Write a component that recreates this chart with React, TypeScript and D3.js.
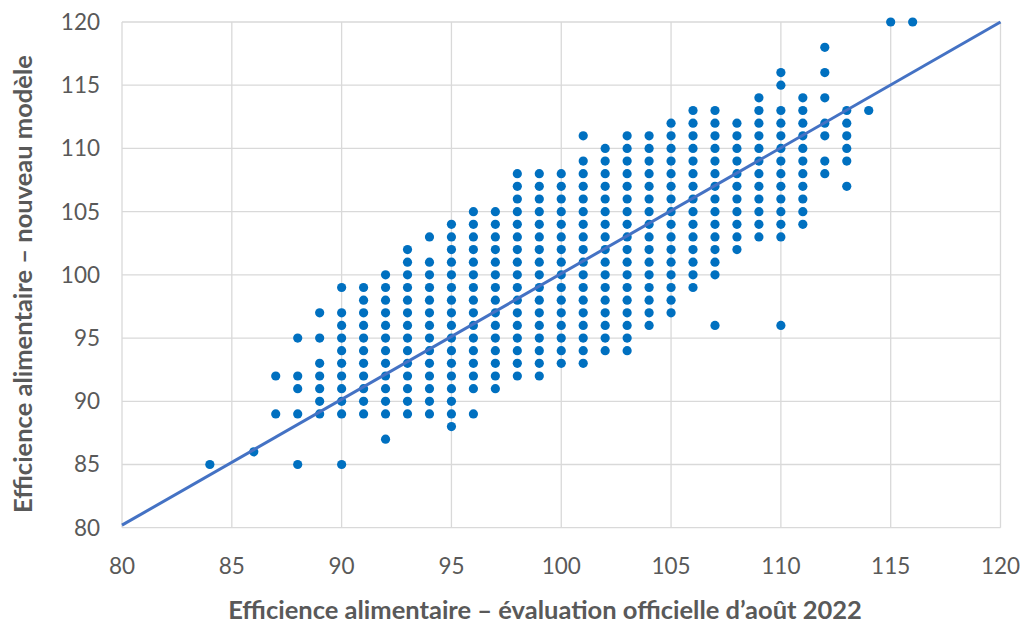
import React from "react";
import * as d3 from "d3";

// Official August 2022 evaluation (x) -> list of new-model values (y) observed at that x
const xColumns: number[] = [84, 86, 87, 88, 89, 90, 91, 92, 93, 94, 95, 96, 97, 98, 99, 100, 101, 102, 103, 104, 105, 106, 107, 108, 109, 110, 111, 112, 113, 114, 115, 116];

const yColumns: number[][] = [
  [85],
  [86],
  [92, 89],
  [95, 92, 91, 89, 85],
  [97, 95, 93, 92, 91, 90, 89],
  [99, 97, 96, 95, 94, 93, 92, 91, 90, 89, 85],
  [99, 98, 97, 96, 95, 94, 93, 92, 91, 90, 89],
  [100, 99, 98, 97, 96, 95, 94, 93, 92, 91, 90, 89, 87],
  [102, 101, 100, 99, 98, 97, 96, 95, 94, 93, 92, 91, 90, 89],
  [103, 101, 100, 99, 98, 97, 96, 95, 94, 93, 92, 91, 90, 89],
  [104, 103, 102, 101, 100, 99, 98, 97, 96, 95, 94, 93, 92, 91, 90, 89, 88],
  [105, 104, 103, 102, 101, 100, 99, 98, 97, 96, 95, 94, 93, 92, 91, 89],
  [105, 104, 103, 102, 101, 100, 99, 98, 97, 96, 95, 94, 93, 92, 91],
  [108, 107, 106, 105, 104, 103, 102, 101, 100, 99, 98, 97, 96, 95, 94, 93, 92],
  [108, 107, 106, 105, 104, 103, 102, 101, 100, 99, 98, 97, 96, 95, 94, 93, 92],
  [108, 107, 106, 105, 104, 103, 102, 101, 100, 99, 98, 97, 96, 95, 94, 93],
  [111, 109, 108, 107, 106, 105, 104, 103, 102, 101, 100, 99, 98, 97, 96, 95, 94, 93],
  [110, 109, 108, 107, 106, 105, 104, 103, 102, 101, 100, 99, 98, 97, 96, 95, 94],
  [111, 110, 109, 108, 107, 106, 105, 104, 103, 102, 101, 100, 99, 98, 97, 96, 95, 94],
  [111, 110, 109, 108, 107, 106, 105, 104, 103, 102, 101, 100, 99, 98, 97, 96],
  [112, 111, 110, 109, 108, 107, 106, 105, 104, 103, 102, 101, 100, 99, 98, 97],
  [113, 112, 111, 110, 109, 108, 107, 106, 105, 104, 103, 102, 101, 100, 99],
  [113, 112, 111, 110, 109, 108, 107, 106, 105, 104, 103, 102, 101, 100, 96],
  [112, 111, 110, 109, 108, 107, 106, 105, 104, 103, 102],
  [114, 113, 112, 111, 110, 109, 108, 107, 106, 105, 104, 103],
  [116, 115, 113, 112, 111, 110, 109, 108, 107, 106, 105, 104, 103, 96],
  [114, 113, 112, 111, 110, 109, 108, 107, 106, 105, 104],
  [118, 116, 114, 112, 111, 109, 108],
  [113, 112, 111, 110, 109, 107],
  [113],
  [120],
  [120],
];

// Linear trend line endpoints
const trendX: number[] = [80, 120];
const trendY: number[] = [80.2, 120];

const xTicks: number[] = [80, 85, 90, 95, 100, 105, 110, 115, 120];
const yTicks: number[] = [80, 85, 90, 95, 100, 105, 110, 115, 120];

const xTitle = "Efficience alimentaire – évaluation officielle d’août 2022";
const yTitle = "Efficience alimentaire – nouveau modèle";

const W = 1023;
const H = 623;
const left = 122;
const right = 1000.5;
const top = 22;
const bottom = 527.7;

const FONT = "Lato, 'Open Sans', sans-serif";
const TEXT = "#595959";

export default function App() {
  const x = d3.scaleLinear().domain([80, 120]).range([left, right]);
  const y = d3.scaleLinear().domain([80, 120]).range([bottom, top]);

  const points: { px: number; py: number }[] = [];
  xColumns.forEach((xv, i) => {
    yColumns[i].forEach((yv) => points.push({ px: xv, py: yv }));
  });

  const line = d3
    .line<number>()
    .x((d, i) => x(trendX[i]))
    .y((d) => y(d));

  return (
    <svg
      width={W}
      height={H}
      style={{ position: "absolute", left: 0, top: 0, background: "#fff" }}
    >
      <rect x={0} y={0} width={W} height={H} fill="#fff" />
      {xTicks.map((t) => (
        <line key={"gx" + t} x1={x(t)} x2={x(t)} y1={top} y2={bottom} stroke="#d9d9d9" strokeWidth={1.3} />
      ))}
      {yTicks.map((t) => (
        <line key={"gy" + t} x1={left} x2={right} y1={y(t)} y2={y(t)} stroke="#d9d9d9" strokeWidth={1.3} />
      ))}
      {points.map((p, i) => (
        <circle key={i} cx={x(p.px)} cy={y(p.py)} r={4.6} fill="#0070C0" />
      ))}
      <path d={line(trendY) || ""} fill="none" stroke="#4472C4" strokeWidth={3} />
      {yTicks.map((t) => (
        <text key={"ty" + t} x={100} y={y(t)} dy="0.35em" textAnchor="end" fontFamily={FONT} fontSize={22.5} fill={TEXT}>
          {t}
        </text>
      ))}
      {xTicks.map((t) => (
        <text key={"tx" + t} x={x(t)} y={574} textAnchor="middle" fontFamily={FONT} fontSize={22.5} fill={TEXT}>
          {t}
        </text>
      ))}
      <text x={545} y={619} textAnchor="middle" fontFamily={FONT} fontSize={25.5} fontWeight="bold" fill={TEXT}>
        {xTitle}
      </text>
      <text
        transform={`translate(32, 284) rotate(-90)`}
        textAnchor="middle"
        fontFamily={FONT}
        fontSize={25.5}
        fontWeight="bold"
        fill={TEXT}
      >
        {yTitle}
      </text>
    </svg>
  );
}
